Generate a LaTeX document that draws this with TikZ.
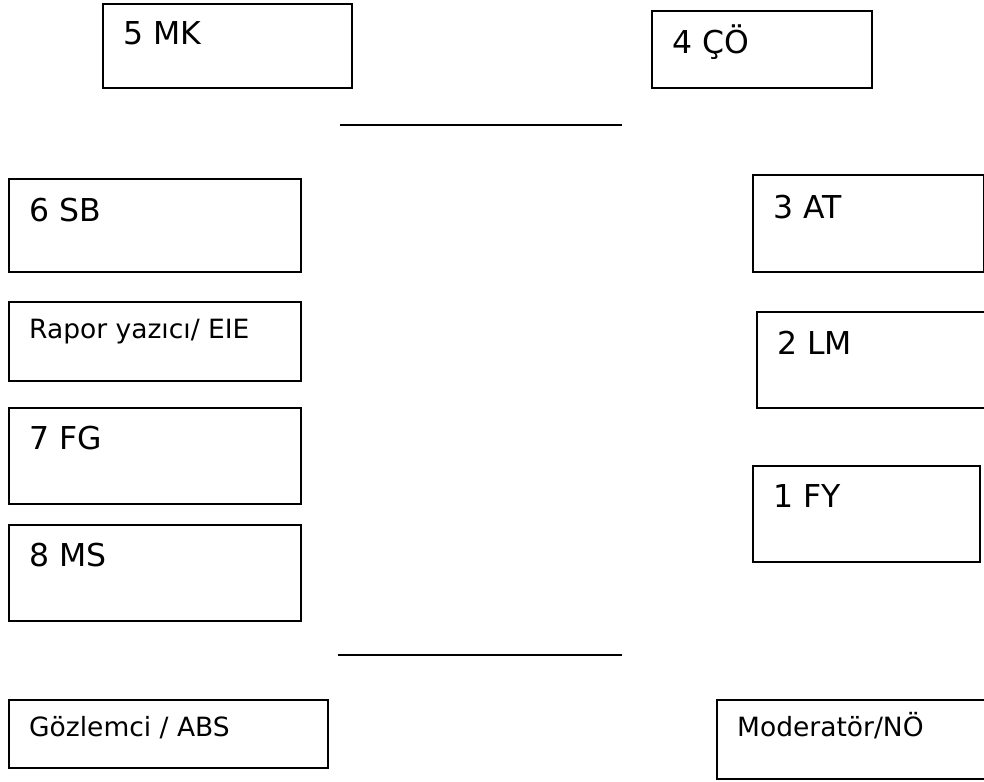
\documentclass[tikz,border=0pt]{standalone}
\usepackage{fontspec}
\setmainfont{DejaVu Sans}
\usetikzlibrary{positioning}

\tikzset{
  member/.style={draw, line width=1.8pt, inner sep=0pt, anchor=north west},
  lab/.style={anchor=base west, inner sep=0pt},
  bigtxt/.style={font=\fontsize{31.5}{36}\selectfont},
  smalltxt/.style={font=\fontsize{26.5}{30}\selectfont}
}

\begin{document}
\begin{tikzpicture}[x=1pt, y=-1pt]
\clip (0,0) rectangle (984,781);

% seats round the table
\foreach \n/\x/\y/\w/\h/\f/\dy/\txt in {
    mk/102/3/249/84/bigtxt/42/{5 MK},
    co/651/10/220/77/bigtxt/44/{4 ÇÖ},
    sb/8/178/292/93/bigtxt/43/{6 SB},
    at/752/174/231/97/bigtxt/44/{3 AT},
    rapor/8/301/292/79/smalltxt/37/{Rapor yazıcı/ EIE},
    lm/756/311/234/96/bigtxt/43/{2 LM},
    fg/8/407/292/96/bigtxt/42/{7 FG},
    fy/752/465/227/96/bigtxt/42/{1 FY},
    ms/8/524/292/96/bigtxt/42/{8 MS},
    gozlem/8/699/319/68/smalltxt/37/{Gözlemci / ABS},
    moder/716/699/274/79/smalltxt/37/{Moderatör/NÖ}}
{
  \node[member, minimum width=\w pt, minimum height=\h pt] (\n) at (\x,\y) {};
  \node[lab, \f] (\n-t) at ([xshift=21pt, yshift=-\dy pt]\n.north west) {\txt};
}

% table edges
\coordinate (topl) at (340,125);
\coordinate (topr) at (622,125);
\coordinate (botl) at (338,655);
\coordinate (botr) at (622,655);
\draw[line width=1.8pt] (topl) -- (topr);
\draw[line width=1.8pt] (botl) -- (botr);
\end{tikzpicture}
\end{document}
